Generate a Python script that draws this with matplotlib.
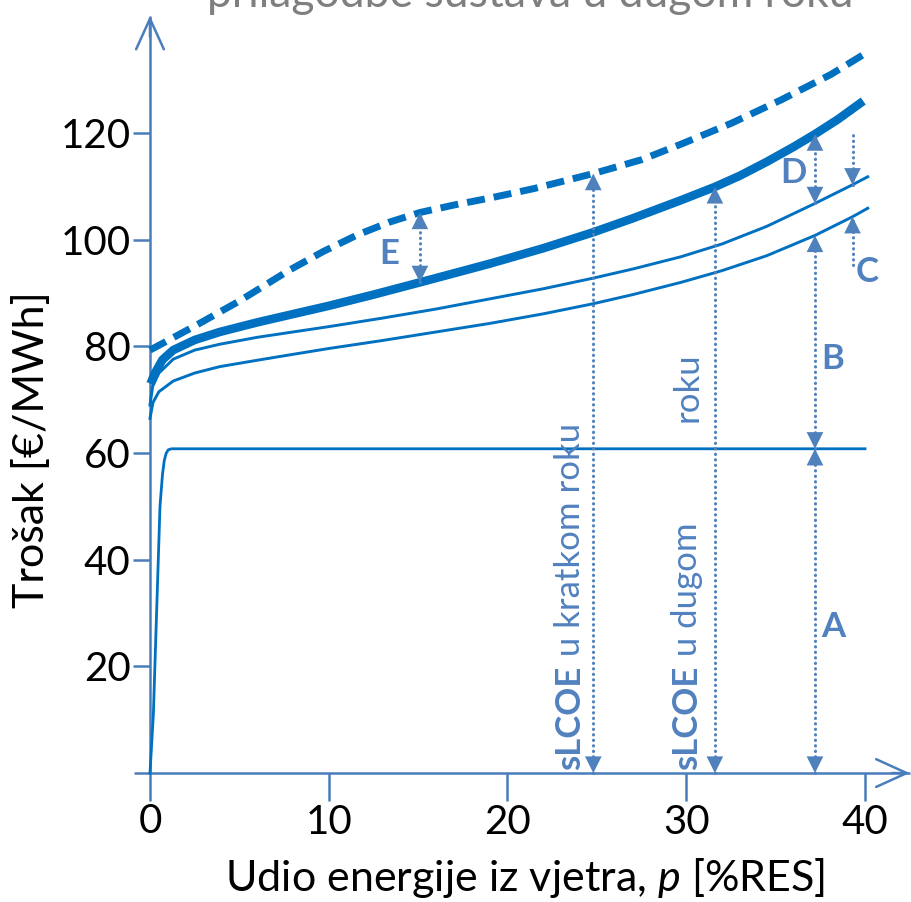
import numpy as np
import matplotlib
matplotlib.use("Agg")
import matplotlib.pyplot as plt

plt.rcParams['font.family'] = ['Lato', 'DejaVu Sans']
plt.rcParams['mathtext.fontset'] = 'custom'
plt.rcParams['mathtext.it'] = 'Lato:italic'
plt.rcParams['mathtext.rm'] = 'Lato'

# ---------------- data ----------------
x_A = [0, 0.19, 0.37, 0.56, 0.7, 0.8, 0.9, 1.02, 1.2, 40]
y_A = [0, 11, 30, 50, 56, 58.6, 59.9, 60.6, 60.8, 60.8]

x_low = [0, 0.17, 0.5, 1.3, 2.5, 3.9, 6, 7.8, 10, 13, 16, 19, 22, 24.8, 27, 29.7, 32, 34.5, 37.2, 39.3, 40.15]
y_low = [66.5, 69.5, 71.5, 73.5, 75, 76.2, 77.4, 78.4, 79.6, 81.1, 82.7, 84.3, 86.1, 88.0, 89.7, 92.0, 94.2, 97.0, 100.8, 104.3, 105.9]

x_up = [0, 0.15, 0.5, 1.3, 2.5, 3.9, 6, 7.8, 10, 13, 16, 19, 22, 24.8, 27, 29.7, 32, 34.5, 37.2, 39.3, 40.15]
y_up = [69, 72.5, 75, 77.6, 79.3, 80.4, 81.7, 82.6, 83.7, 85.3, 87.0, 88.9, 90.8, 92.8, 94.5, 96.8, 99.2, 102.5, 106.8, 110.3, 111.8]

x_thick = [0.03, 0.28, 0.7, 1.3, 2.5, 3.9, 6, 7.8, 10, 12.5, 15.1, 17, 19, 22, 24.8, 27, 29.7, 31.6, 33, 34.5, 36, 37.2, 38.5, 39.9]
y_thick = [73, 75, 77.5, 79.3, 81.2, 82.7, 84.5, 85.9, 87.6, 89.7, 92.0, 93.7, 95.5, 98.4, 101.4, 104.0, 107.4, 109.9, 112.0, 114.6, 117.4, 119.8, 122.6, 126.0]

x_dash = [0, 2.5, 5, 7.8, 9.7, 11.6, 13.4, 15.1, 17, 19, 21.5, 24.8, 27.5, 29.7, 32.5, 35.3, 38.1, 40.2]
y_dash = [79.3, 83.8, 88.5, 94.3, 97.8, 100.9, 103.3, 105.1, 106.5, 107.8, 109.6, 112.4, 115.0, 117.9, 121.8, 126.2, 131.0, 135.3]

x_ticks = [10, 20, 30, 40]
x_ticklabels = ['10', '20', '30', '40']
y_ticks = [20, 40, 60, 80, 100, 120]
y_ticklabels = ['20', '40', '60', '80', '100', '120']

# annotation positions (x in %RES)
p_E = 15.1
p_short = 24.8
p_long = 31.6
p_ABD = 37.2
p_C = 39.3

title_text = 'prilagodbe sustava u dugom roku'
x_label = 'Udio energije iz vjetra, $\\it{p}$ [%RES]'
y_label = 'Trošak [€/MWh]'

# ---------------- style ----------------
LINE = '#0070C0'
AXC = '#4A7EBB'
ARR = '#4F81BD'
TXT = '#5181BF'
GRAY = '#7F7F7F'

fig = plt.figure(figsize=(9.12, 9.02), dpi=100)
ax = fig.add_axes([0.1468, 0.1116, 0.8507, 0.871])
ax.set_xlim(-0.9, 42.5)
ax.set_ylim(-5.3, 142)

for s in ['top', 'right']:
    ax.spines[s].set_visible(False)
for s in ['left', 'bottom']:
    ax.spines[s].set_position(('data', 0))
    ax.spines[s].set_color(AXC)
    ax.spines[s].set_linewidth(1.8)
    ax.spines[s].set_capstyle('butt')

ax.set_xticks(x_ticks)
ax.set_xticklabels(x_ticklabels)
ax.set_yticks(y_ticks)
ax.set_yticklabels(y_ticklabels)
ax.tick_params(axis='x', direction='out', length=20, width=1.8, color=AXC,
               labelsize=29, labelcolor='black', pad=2)
ax.tick_params(axis='y', direction='out', length=12, width=1.8, color=AXC,
               labelsize=29, labelcolor='black', pad=2)

# zero label on x
ax.text(0, -5.6, '0', ha='center', va='top', fontsize=29, color='black')

# axis arrow heads
ax.annotate('', xy=(0, 142), xytext=(0, 138), annotation_clip=False,
            arrowprops=dict(arrowstyle='->,head_length=1.1,head_width=0.5', lw=1.8,
                            color=AXC, shrinkA=0, shrinkB=0, mutation_scale=20))
ax.annotate('', xy=(42.5, 0), xytext=(41.5, 0), annotation_clip=False,
            arrowprops=dict(arrowstyle='->,head_length=1.1,head_width=0.5', lw=1.8,
                            color=AXC, shrinkA=0, shrinkB=0, mutation_scale=20))

# ---------------- curves ----------------
ax.plot(x_A, y_A, color=LINE, lw=2.0, solid_joinstyle='round', zorder=3)
ax.plot(x_low, y_low, color=LINE, lw=2.1, solid_joinstyle='round', zorder=3)
ax.plot(x_up, y_up, color=LINE, lw=2.1, solid_joinstyle='round', zorder=3)
ax.plot(x_thick, y_thick, color=LINE, lw=6.2, solid_capstyle='butt',
        solid_joinstyle='round', zorder=3)
ax.plot(x_dash, y_dash, color=LINE, lw=5.0, dashes=(2.6, 1.3), dash_capstyle='butt', zorder=3)


def yat(xs, ys, p):
    return float(np.interp(p, xs, ys))


def dotted(x, y0, y1):
    ax.plot([x, x], [y0, y1], color=ARR, lw=2.2, ls=(0, (0.1, 1.7)),
            dash_capstyle='round', zorder=4)


def head(x, y, up=True):
    off = (0, -1) if up else (0, 1)
    ax.annotate('', xy=(x, y), xytext=off, textcoords='offset points',
                annotation_clip=False,
                arrowprops=dict(arrowstyle='-|>,head_length=1.0,head_width=0.5', lw=0,
                                color=ARR, shrinkA=0, shrinkB=0, mutation_scale=12),
                zorder=5)


def double_arrow(x, y0, y1):
    dotted(x, y0, y1)
    head(x, y1, up=True)
    head(x, y0, up=False)


# E
double_arrow(p_E, yat(x_thick, y_thick, p_E), yat(x_dash, y_dash, p_E))
# short / long run sLCOE
double_arrow(p_short, 0, yat(x_dash, y_dash, p_short))
double_arrow(p_long, 0, yat(x_thick, y_thick, p_long))
# A, B, D
yA = y_A[-1]
double_arrow(p_ABD, 0, yA)
double_arrow(p_ABD, yA, yat(x_low, y_low, p_ABD))
double_arrow(p_ABD, yat(x_up, y_up, p_ABD), yat(x_thick, y_thick, p_ABD))
# C
yCu = yat(x_up, y_up, p_C)
yCl = yat(x_low, y_low, p_C)
dotted(p_C, yCu, 120.5)
head(p_C, yCu, up=False)
dotted(p_C, 95.3, yCl)
head(p_C, yCl, up=True)

# letters
lkw = dict(fontsize=25, fontweight='bold', color=TXT, ha='center', va='center')
ax.text(13.4, 97.3, 'E', **lkw)
ax.text(36.0, 112.5, 'D', **lkw)
ax.text(38.2, 77.7, 'B', **lkw)
ax.text(40.1, 94.0, 'C', **lkw)
ax.text(38.2, 27.4, 'A', **lkw)

# rotated sLCOE texts
rkw = dict(rotation=90, ha='center', va='bottom', fontsize=25, color=TXT)
t1 = ax.text(23.5, 0.6, 'sLCOE', fontweight='bold', **rkw)
ax.annotate(' u kratkom roku', xy=(0.5, 1.0), xycoords=t1, **rkw)
t3 = ax.text(30.05, 0.6, 'sLCOE', fontweight='bold', **rkw)
ax.annotate(' u dugom', xy=(0.5, 1.0), xycoords=t3, **rkw)
ax.text(30.05, 78.8, 'roku', rotation=90, ha='center', va='top', fontsize=25, color=TXT)

# title fragment (cut at top)
ax.text(21.3, 143.6, title_text, ha='center', va='baseline', fontsize=32, color=GRAY)

# axis labels
ax.set_xlabel(x_label, fontsize=31, color='black', va='center')
ax.xaxis.set_label_coords(20.98, -19.6, transform=ax.transData)
ax.set_ylabel(y_label, fontsize=31, color='black', va='center')
ax.yaxis.set_label_coords(-6.6, 60.6, transform=ax.transData)

fig.savefig('out.png', dpi=100)
